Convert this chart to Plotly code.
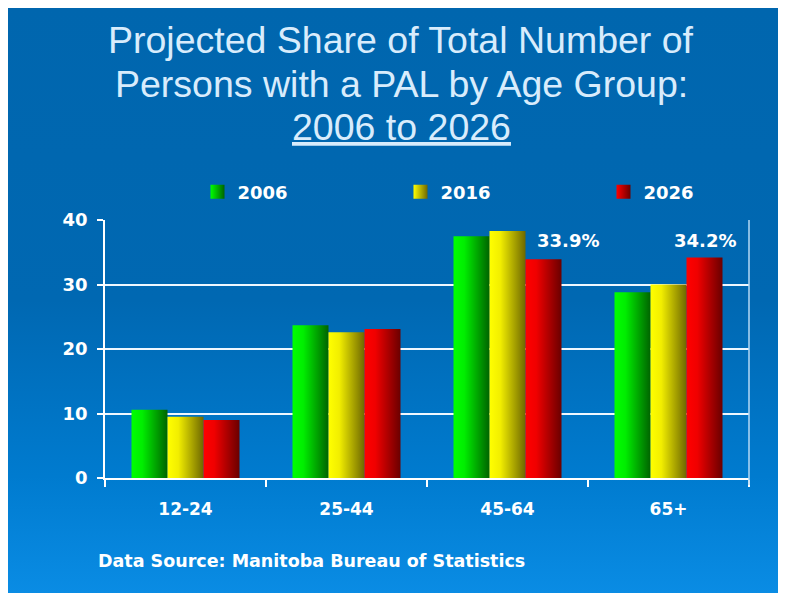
import base64
import plotly.graph_objects as go

# ---------------- data ----------------
categories = ["12-24", "25-44", "45-64", "65+"]
series_names = ["2006", "2016", "2026"]
values_2006 = [10.6, 23.7, 37.5, 28.8]
values_2016 = [9.5, 22.6, 38.3, 30.0]
values_2026 = [9.0, 23.1, 33.9, 34.2]
y_ticks = [0, 10, 20, 30, 40]
callouts = {2: 33.9, 3: 34.2}   # category index -> 2026 value shown as label
title_lines = ["Projected Share of Total Number of",
               "Persons with a PAL by Age Group:",
               "<u>2006 to 2026</u>"]

series_values = [values_2006, values_2016, values_2026]
series_grad = [
    [[0, "#00ff00"], [0.3, "#00ee00"], [1, "#006400"]],
    [[0, "#ffff00"], [0.3, "#f2ee00"], [1, "#6e6800"]],
    [[0, "#ff0000"], [0.3, "#f00000"], [1, "#6a0000"]],
]
legend_colors = [("#00ff00", "#006400"), ("#ffff00", "#6e6800"), ("#ff0000", "#6a0000")]

# ---------------- geometry helpers (page pixels -> paper) ----------------
OX, OY = 8, 8                      # page body margin
W, H = 786 - OX, 593 - OY          # figure size
L, R, T, B = 105, 749, 220, 478    # plot area in page pixels
def px_x(p):
    return (p - L) / (R - L)
def px_y(p):
    return (B - p) / (B - T)

bar_w = 36 / 161.0
fig = go.Figure()

for si, (name, vals) in enumerate(zip(series_names, series_values)):
    off = (si - 1) * bar_w
    for ci, v in enumerate(vals):
        x0 = ci + off - bar_w / 2
        x1 = ci + off + bar_w / 2
        fig.add_trace(go.Scatter(
            x=[x0, x1, x1, x0, x0], y=[0, 0, v, v, 0],
            mode="none", fill="toself",
            fillgradient=dict(type="horizontal", colorscale=series_grad[si]),
            showlegend=False, hoverinfo="skip", legendgroup=name,
        ))
    c0, c1 = legend_colors[si]
    fig.add_trace(go.Scatter(
        x=[None], y=[None], mode="markers", name=name, legendgroup=name,
        marker=dict(symbol="square", size=14, color=c0,
                    gradient=dict(type="horizontal", color=c1)),
    ))

annotations = []
for ci, v in callouts.items():
    annotations.append(dict(
        x=ci + bar_w, y=36.9, xref="x", yref="y", text=f"{v}%", showarrow=False,
        xanchor="center", yanchor="middle", xshift=24 if ci == 2 else 0,
        font=dict(family="DejaVu Sans", size=18, color="white", weight="bold"),
    ))
annotations.append(dict(
    x=px_x(96), y=px_y(561), xref="paper", yref="paper",
    text="Data Source: Manitoba Bureau of Statistics", showarrow=False,
    xanchor="left", yanchor="middle",
    font=dict(family="DejaVu Sans", size=17.5, color="white", weight="bold"),
))
for line, yc in zip(title_lines, [40, 84, 127]):
    annotations.append(dict(
        x=px_x(401), y=px_y(yc), xref="paper", yref="paper", text=line,
        showarrow=False, xanchor="center", yanchor="middle",
        font=dict(family="Liberation Sans, Arial", size=37.5, color="#d8ecfc"),
    ))

# background gradient as an SVG image
svg = ('<svg xmlns="http://www.w3.org/2000/svg" width="100" height="100" viewBox="0 0 100 100" '
       'preserveAspectRatio="none"><defs><linearGradient id="g" x1="0" y1="0" x2="0" y2="1">'
       '<stop offset="0" stop-color="#0066ae"/><stop offset="0.5" stop-color="#0068b2"/>'
       '<stop offset="0.8" stop-color="#007bcf"/><stop offset="1" stop-color="#0a8ce4"/>'
       '</linearGradient></defs><rect width="100" height="100" fill="url(#g)"/></svg>')
src = "data:image/svg+xml;base64," + base64.b64encode(svg.encode()).decode()

fig.update_layout(
    width=W, height=H,
    margin=dict(l=L - OX, r=OX + W - R, t=T - OY, b=OY + H - B, pad=0, autoexpand=False),
    paper_bgcolor="#0066ae", plot_bgcolor="rgba(0,0,0,0)",
    images=[dict(source=src, xref="paper", yref="paper",
                 x=px_x(OX), y=px_y(OY), sizex=px_x(OX + W) - px_x(OX),
                 sizey=px_y(OY) - px_y(OY + H),
                 xanchor="left", yanchor="top", sizing="stretch", layer="below")],
    legend=dict(
        orientation="h", x=px_x(502), y=px_y(192), xanchor="center", yanchor="middle",
        entrywidth=158, entrywidthmode="pixels", bgcolor="rgba(0,0,0,0)",
        font=dict(family="DejaVu Sans", size=18, color="white", weight="bold"),
        itemsizing="trace",
    ),
    annotations=annotations,
    shapes=[dict(type="line", xref="paper", yref="paper", x0=1, x1=1,
                 y0=px_y(485), y1=1, line=dict(color="#b4d8f4", width=1.5))],
    showlegend=True,
)
fig.update_xaxes(
    range=[-0.5, len(categories) - 0.5], tickvals=list(range(len(categories))),
    ticktext=categories, ticks="", showgrid=False, zeroline=False,
    showline=True, linecolor="white", linewidth=2,
    ticklabelstandoff=15,
    tickfont=dict(family="DejaVu Sans", size=17, color="white", weight="bold"),
    minor=dict(tickvals=[i - 0.5 for i in range(len(categories) + 1)], ticks="outside",
               ticklen=7, tickcolor="white", tickwidth=1.5, showgrid=False),
    fixedrange=True,
)
fig.update_yaxes(
    range=[0, 40], tickvals=y_ticks, ticks="outside", ticklen=6, tickcolor="white",
    tickwidth=1.5, showgrid=True, gridcolor="#eef7ff", gridwidth=1.5, zeroline=False,
    showline=True, linecolor="white", linewidth=1.5, ticklabelstandoff=6,
    tickfont=dict(family="DejaVu Sans", size=18, color="white", weight="bold"),
    fixedrange=True,
)
fig.write_html("out.html")
